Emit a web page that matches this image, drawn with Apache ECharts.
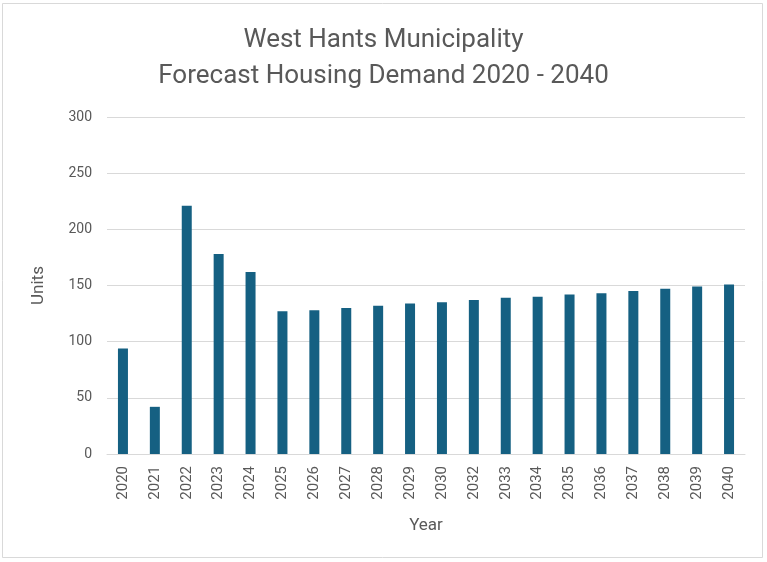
<!DOCTYPE html>
<html>
<head>
<meta charset="utf-8">
<script src="https://cdn.jsdelivr.net/npm/echarts@6/dist/echarts.min.js"></script>
<style>html,body{margin:0;padding:0;background:#fff;}#c{width:767px;height:562px;}</style>
</head>
<body>
<div id="c"></div>
<script>
const titleLines = ["West Hants Municipality", "Forecast Housing Demand 2020 - 2040"];
const years = ["2020","2021","2022","2023","2024","2025","2026","2027","2028","2029","2030","2032","2033","2034","2035","2036","2037","2038","2039","2040"];
const demand = [94, 42, 221, 178, 162, 127, 128, 130, 132, 134, 135, 137, 139, 140, 142, 143, 145, 147, 149, 151];
const yTicks = [0, 50, 100, 150, 200, 250, 300];

const FONT = "Roboto, sans-serif";
const chart = echarts.init(document.getElementById('c'), null, {renderer: 'canvas'});
chart.setOption({
  backgroundColor: '#fff',
  animation: false,
  title: {
    text: titleLines.join('\n'),
    left: 'center',
    top: 17,
    textStyle: {fontFamily: FONT, fontSize: 26, fontWeight: 'normal', color: '#595959', lineHeight: 36}
  },
  graphic: [{
    type: 'rect', shape: {x: 2.5, y: 3.5, width: 760, height: 554},
    style: {fill: 'none', stroke: '#D9D9D9', lineWidth: 1}, silent: true
  }],
  grid: {left: 107, right: 22, top: 117, bottom: 108, containLabel: false},
  xAxis: {
    type: 'category',
    data: years,
    name: 'Year',
    nameLocation: 'middle',
    nameGap: 63,
    nameTextStyle: {fontFamily: FONT, fontSize: 17, color: '#595959'},
    axisLine: {show: true, lineStyle: {color: '#D9D9D9'}},
    axisTick: {show: false},
    axisLabel: {rotate: 90, fontFamily: FONT, fontSize: 15, color: '#595959', margin: 12, interval: 0}
  },
  yAxis: {
    type: 'value',
    min: yTicks[0],
    max: yTicks[yTicks.length - 1],
    interval: 50,
    name: 'Units',
    nameLocation: 'middle',
    nameGap: 60,
    nameTextStyle: {fontFamily: FONT, fontSize: 17, color: '#595959'},
    axisLine: {show: false},
    axisTick: {show: false},
    axisLabel: {fontFamily: FONT, fontSize: 14, color: '#595959', margin: 15},
    splitLine: {lineStyle: {color: '#D9D9D9', width: 1}}
  },
  series: [{
    type: 'bar',
    data: demand,
    barWidth: 10,
    itemStyle: {color: '#156082'}
  }]
});
</script>
</body>
</html>
